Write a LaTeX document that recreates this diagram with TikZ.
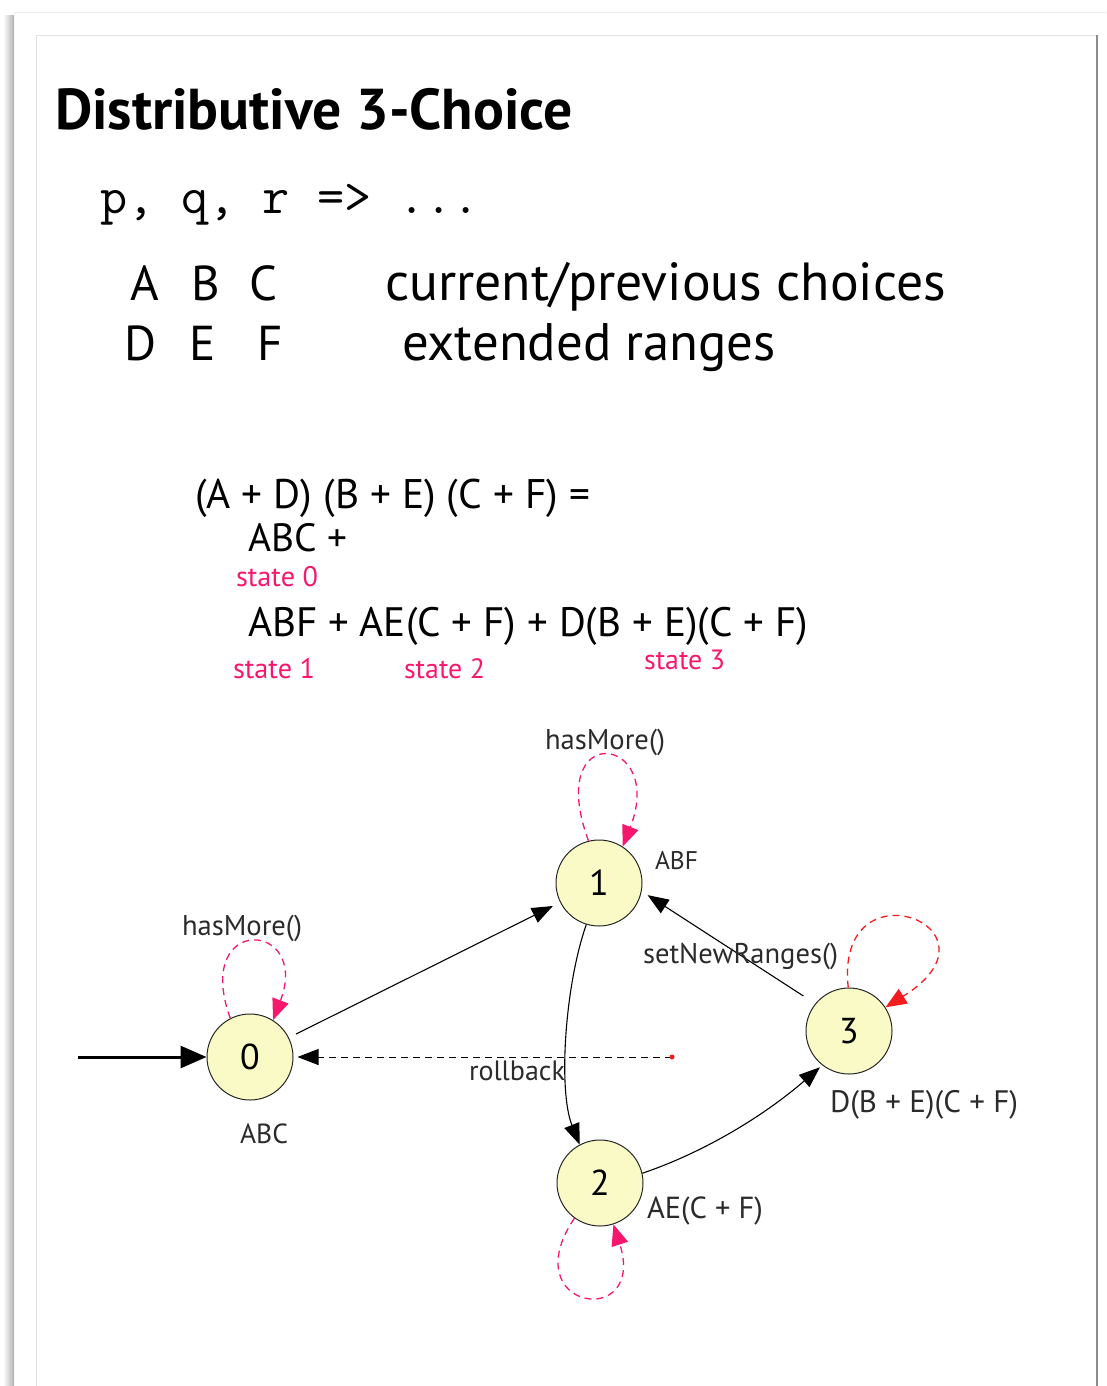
\documentclass[tikz,border=0pt]{standalone}
\usepackage{fontspec}
\setmainfont{PT Sans}
\usetikzlibrary{arrows.meta}
\definecolor{pinkc}{HTML}{F7186E}
\definecolor{redc}{HTML}{F41C1C}
\definecolor{nodefill}{HTML}{FAFAC6}
\definecolor{txtg}{HTML}{2B2B2B}
\newcommand\fitw[2]{\resizebox{#1pt}{!}{#2}}
\tikzset{
  txt/.style={anchor=base west, inner sep=0pt, outer sep=0pt},
  big/.style={txt, font=\fontsize{49}{49}\selectfont},
  st/.style={circle, draw=black!85, fill=nodefill, minimum size=86pt, inner sep=0pt, line width=1pt, font=\fontsize{36}{36}\selectfont},
  edge/.style={draw=black, line width=1.1pt, -{Triangle[length=21pt,width=16pt]}},
  loopp/.style={draw=pinkc, dashed, dash pattern=on 7pt off 5pt, line width=1.3pt, -{Triangle[length=21pt,width=17pt,color=pinkc]}},
  loopr/.style={draw=redc, dashed, dash pattern=on 7pt off 5pt, line width=1.3pt, -{Triangle[length=21pt,width=17pt,color=redc]}},
  lab/.style={txt, text=txtg},
  red lab/.style={txt, text=pinkc}
}
\begin{document}
\begin{tikzpicture}[x=1pt,y=-1pt]
\useasboundingbox (0,0) rectangle (1106,1386);
% slide frame
\fill[left color=white, right color=black!30] (3,16) rectangle (14,1386);
\draw[black!8, line width=1pt] (14,12.5) -- (1106,12.5);
\draw[black!12, line width=0.8pt] (36,1386) -- (36,35) -- (1097,35);
\draw[black!45, line width=1.3pt] (1097,35) -- (1097,1386);

% title and heading text
\node[txt] (title) at (55,130) {\fitw{518}{\fontsize{50}{50}\selectfont\bfseries Distributive 3-Choice}};
\node[txt] (pqr) at (100,213) {\fitw{380}{\ttfamily\fontsize{45}{45}\selectfont p, q, r => ...}};
\node[big] (A) at (130,300) {A};
\node[big] (B) at (191,300) {B};
\node[big] (C) at (249,300) {C};
\node[big] (D) at (124,360) {D};
\node[big] (E) at (189,360) {E};
\node[big] (F) at (257,360) {F};
\node[txt] (cur) at (385,300) {\fitw{561}{\fontsize{48}{48}\selectfont current/previous choices}};
\node[txt] (ext) at (402,360) {\fitw{374}{\fontsize{48}{48}\selectfont extended ranges}};

% equation
\node[txt] (eq1) at (195,508) {\fitw{395}{\fontsize{34}{34}\selectfont (A + D) (B + E) (C + F) =}};
\node[txt] (eq2) at (248,551) {\fitw{99}{\fontsize{34}{34}\selectfont ABC +}};
\node[red lab] (s0) at (236,586) {\fitw{82}{\fontsize{24}{24}\selectfont state 0}};
\node[txt] (eq3) at (248,636) {\fitw{560}{\fontsize{34}{34}\selectfont ABF + AE(C + F) + D(B + E)(C + F)}};
\node[red lab] (s1) at (233,678) {\fitw{82}{\fontsize{24}{24}\selectfont state 1}};
\node[red lab] (s2) at (404,678) {\fitw{81}{\fontsize{24}{24}\selectfont state 2}};
\node[red lab] (s3) at (644,669) {\fitw{81}{\fontsize{24}{24}\selectfont state 3}};

% states
\node[st] (n0) at (250,1057) {0};
\node[st] (n1) at (599,883) {1};
\node[st] (n2) at (600,1183) {2};
\node[st] (n3) at (849,1031) {3};
\coordinate (init) at (78,1057);
\coordinate (rb) at (672,1057);

% edges
\draw[line width=3pt, -{Triangle[length=26pt,width=22pt]}] (init) -- (n0.west);
\draw[edge, shorten <=8pt, shorten >=8pt] (n0) -- (n1);
\draw[edge] (n1.253) .. controls (565,985) and (558,1090) .. (n2.118);
\draw[edge, shorten >=3pt] (n2.13) .. controls (705,1152) and (765,1115) .. (n3.232);
\draw[edge, shorten <=14pt, shorten >=7pt] (n3.141) -- (n1.-11);
\draw[edge, dashed, dash pattern=on 7pt off 5pt, line width=1pt, shorten >=4pt] (rb) -- (n0);
\fill[redc] (rb) circle (2.5pt);

% loops
\draw[loopp] (n0.117) .. controls +(-38,-105) and +(38,-100) .. (n0.58);
\draw[loopp] (n1.104) .. controls +(-45,-122) and +(44,-112) .. (n1.57);
\draw[loopr] (n3.91) .. controls +(-14,-128) and +(128,-80) .. (n3.33);
\draw[loopp] (n2.-126) .. controls +(-62,92) and +(34,106) .. (n2.-72);

% labels
\node[lab] (h1) at (545,749) {\fitw{120}{\fontsize{24}{24}\selectfont hasMore()}};
\node[lab] (abf) at (655,869) {\fitw{43}{\fontsize{24}{24}\selectfont ABF}};
\node[lab] (h0) at (182,935) {\fitw{120}{\fontsize{24}{24}\selectfont hasMore()}};
\node[lab] (snr) at (643,963) {\fitw{195}{\fontsize{24}{24}\selectfont setNewRanges()}};
\node[lab] (rbl) at (469,1080) {\fitw{96}{\fontsize{24}{24}\selectfont rollback}};
\node[lab] (abc) at (240,1143) {\fitw{48}{\fontsize{24}{24}\selectfont ABC}};
\node[lab] (dbe) at (830,1112) {\fitw{188}{\fontsize{24}{24}\selectfont D(B + E)(C + F)}};
\node[lab] (aec) at (647,1218) {\fitw{116}{\fontsize{24}{24}\selectfont AE(C + F)}};
\end{tikzpicture}
\end{document}
